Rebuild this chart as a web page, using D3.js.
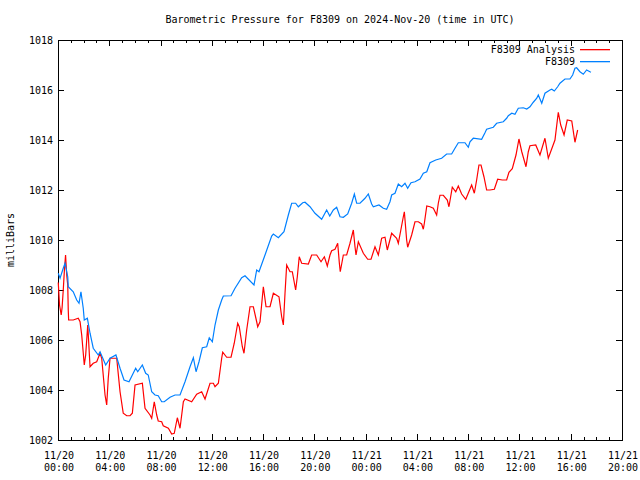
<!DOCTYPE html>
<html><head><meta charset="utf-8">
<script src="https://cdn.jsdelivr.net/npm/d3@7"></script>
<style>
body{margin:0;background:#fff;}
text{font-family:"DejaVu Sans Mono","Liberation Mono",monospace;font-size:10px;fill:#000;}
</style></head>
<body><svg id="c" width="640" height="480"></svg>
<script>
const titleText = "Barometric Pressure for F8309 on 2024-Nov-20 (time in UTC)";
const yLabel = "milliBars";
const seriesNames = ["F8309 Analysis", "F8309"];
const yTicks = [1002,1004,1006,1008,1010,1012,1014,1016,1018];
// hours since 2024-11-20 00:00 UTC
const obsHours = [0.02,0.16,0.41,0.55,0.76,0.80,1.19,1.46,1.64,1.79,1.97,2.05,2.29,2.50,2.75,3.14,3.28,3.72,4.06,4.52,4.84,5.15,5.54,6.06,6.22,6.58,6.84,7.04,7.31,7.57,7.82,8.09,8.29,8.74,9.13,9.52,9.91,10.30,10.56,10.77,11.00,11.26,11.60,11.80,12.04,12.25,12.51,12.77,12.90,13.50,13.81,14.33,14.59,15.29,15.50,15.68,16.15,16.67,16.80,17.19,17.63,17.97,18.23,18.54,18.75,19.09,19.27,19.66,20.05,20.57,20.96,21.20,21.48,21.74,22.00,22.26,22.60,22.91,23.12,23.30,23.56,23.95,24.21,24.47,24.60,25.04,25.38,25.64,25.90,26.03,26.29,26.55,26.81,27.07,27.28,27.54,27.85,28.24,28.50,28.77,29.02,29.47,29.93,30.32,30.71,30.97,31.23,31.75,32.01,32.14,32.40,33.05,33.31,33.44,33.96,34.22,34.74,35.00,35.13,35.40,35.65,35.91,36.30,36.57,36.82,37.08,37.35,37.47,37.74,37.99,38.38,38.52,38.72,38.98,39.16,39.55,39.94,40.15,40.33,40.46,40.72,40.98,41.24,41.50,41.58];
const obsValues = [1008.67,1008.47,1008.87,1009.07,1008.53,1008.13,1007.93,1007.60,1007.47,1007.93,1007.27,1006.80,1006.87,1006.27,1005.67,1005.40,1005.53,1005.00,1005.27,1005.40,1004.87,1004.40,1004.33,1004.87,1004.73,1005.00,1004.67,1004.60,1003.93,1003.80,1003.77,1003.53,1003.53,1003.71,1003.80,1003.80,1004.33,1004.93,1005.29,1004.73,1005.13,1005.69,1005.73,1006.09,1005.93,1006.60,1007.20,1007.60,1007.76,1007.77,1008.07,1008.49,1008.57,1008.20,1008.80,1008.73,1009.40,1010.16,1010.24,1010.09,1010.33,1011.00,1011.47,1011.47,1011.33,1011.49,1011.51,1011.33,1011.07,1010.83,1011.20,1010.96,1011.20,1011.31,1010.93,1010.91,1011.04,1011.47,1011.84,1011.47,1011.47,1011.67,1011.84,1011.44,1011.33,1011.40,1011.27,1011.23,1011.53,1011.80,1011.87,1012.24,1012.13,1012.27,1012.07,1012.29,1012.33,1012.44,1012.67,1012.73,1013.09,1013.20,1013.27,1013.44,1013.44,1013.67,1013.89,1013.89,1013.71,1013.93,1014.07,1014.03,1014.29,1014.43,1014.51,1014.67,1014.73,1014.87,1014.97,1015.07,1015.03,1015.27,1015.29,1015.24,1015.33,1015.51,1015.67,1015.80,1015.47,1015.87,1016.00,1016.03,1015.96,1016.13,1016.27,1016.44,1016.44,1016.60,1016.87,1016.89,1016.73,1016.63,1016.80,1016.73,1016.71];
const anaHours = [0.02,0.12,0.25,0.32,0.41,0.50,0.59,0.68,0.76,0.80,0.83,1.19,1.58,1.72,1.85,2.05,2.16,2.32,2.50,2.75,3.02,3.28,3.41,3.67,3.80,3.92,4.06,4.58,4.84,5.09,5.36,5.62,5.80,6.01,6.58,6.79,7.18,7.31,7.51,7.70,7.82,8.09,8.21,8.61,8.87,9.07,9.31,9.52,9.78,9.91,10.43,10.82,11.21,11.47,11.86,12.12,12.25,12.51,12.77,12.85,13.16,13.50,13.75,14.02,14.14,14.38,14.51,14.72,14.98,15.24,15.50,15.58,15.76,16.02,16.23,16.54,16.80,17.24,17.45,17.58,17.71,17.84,18.10,18.28,18.54,18.67,18.82,19.01,19.53,19.79,20.18,20.52,20.78,21.01,21.22,21.35,21.61,21.82,21.95,22.02,22.26,22.52,22.78,23.04,23.17,23.25,23.43,23.82,24.16,24.42,24.73,24.99,25.25,25.51,25.69,26.03,26.42,26.55,26.94,27.02,27.20,27.28,27.59,27.85,28.11,28.37,28.50,28.58,28.77,29.02,29.28,29.54,29.67,29.80,30.06,30.37,30.50,30.76,31.03,31.23,31.49,31.81,32.27,32.48,32.66,32.84,33.00,33.23,33.44,33.70,34.04,34.30,34.66,35.00,35.18,35.44,35.73,35.96,36.18,36.51,36.69,36.82,37.27,37.60,37.99,38.25,38.77,39.03,39.22,39.48,39.73,40.08,40.33,40.54];
const anaValues = [1008.30,1007.40,1007.00,1007.30,1008.00,1008.80,1009.40,1008.60,1008.20,1007.20,1006.80,1006.80,1006.87,1006.73,1006.20,1005.00,1005.40,1006.60,1004.93,1005.07,1005.13,1005.47,1005.27,1003.80,1003.40,1004.47,1005.27,1005.27,1003.93,1003.07,1002.97,1002.97,1003.07,1004.20,1004.27,1003.27,1003.00,1002.87,1003.53,1003.00,1002.76,1002.73,1002.57,1002.47,1002.24,1002.27,1002.89,1002.47,1003.53,1003.64,1003.53,1003.83,1003.93,1003.64,1004.27,1004.27,1004.13,1004.27,1005.27,1005.51,1005.31,1005.31,1005.87,1006.67,1006.53,1005.73,1005.47,1006.40,1007.33,1007.33,1006.73,1006.53,1006.73,1008.13,1007.33,1007.33,1007.87,1007.73,1006.93,1006.60,1007.87,1009.00,1008.73,1008.73,1008.00,1008.53,1009.33,1009.07,1009.04,1009.40,1009.40,1009.13,1009.33,1008.96,1009.40,1009.57,1009.63,1009.87,1009.07,1008.73,1009.40,1009.40,1009.87,1010.40,1009.73,1009.40,1009.93,1009.47,1009.23,1009.23,1009.73,1009.40,1010.07,1010.11,1009.60,1010.27,1010.07,1009.87,1010.93,1011.13,1010.00,1009.71,1010.20,1010.73,1010.73,1010.64,1010.43,1010.67,1011.36,1011.33,1011.27,1011.00,1011.47,1011.79,1011.79,1011.60,1011.33,1012.11,1011.93,1012.16,1011.84,1011.63,1012.20,1011.87,1012.40,1013.00,1013.00,1012.53,1012.00,1012.00,1012.03,1012.43,1012.40,1012.40,1012.71,1012.85,1013.40,1014.04,1013.53,1012.93,1013.53,1013.77,1013.80,1013.40,1014.07,1013.27,1014.00,1015.11,1014.60,1014.20,1014.80,1014.76,1013.91,1014.40];

const t0 = Date.UTC(2024,10,20,0,0);
const toDate = h => new Date(t0 + h*3600e3);
const svg = d3.select("#c");
const L=58, R=622, T=40, B=440;
const x = d3.scaleUtc().domain([new Date(t0), new Date(Date.UTC(2024,10,21,20,0))]).range([L,R]);
const y = d3.scaleLinear().domain([1002,1018]).range([B,T]);

const major = d3.utcHour.every(4).range(x.domain()[0], new Date(+x.domain()[1]+1));
const minor = d3.utcHour.every(1).range(x.domain()[0], new Date(+x.domain()[1]+1));
const g = svg.append("g").attr("shape-rendering","crispEdges").attr("stroke","#000");
minor.forEach(d=>{const px=Math.round(x(d))+0.5;
  g.append("line").attr("x1",px).attr("x2",px).attr("y1",B).attr("y2",B-3);
  g.append("line").attr("x1",px).attr("x2",px).attr("y1",T).attr("y2",T+3);});
major.forEach(d=>{const px=Math.round(x(d))+0.5;
  g.append("line").attr("x1",px).attr("x2",px).attr("y1",B).attr("y2",B-6);
  g.append("line").attr("x1",px).attr("x2",px).attr("y1",T).attr("y2",T+6);});
yTicks.forEach(v=>{const py=Math.round(y(v))+0.5;
  g.append("line").attr("x1",L).attr("x2",L+6).attr("y1",py).attr("y2",py);
  g.append("line").attr("x1",R).attr("x2",R-6).attr("y1",py).attr("y2",py);});
g.append("rect").attr("x",L+0.5).attr("y",T+0.5).attr("width",R-L).attr("height",B-T).attr("fill","none");

const fmtD = d3.utcFormat("%m/%d"), fmtT = d3.utcFormat("%H:%M");
major.forEach(d=>{
  const t = svg.append("text").attr("text-anchor","middle");
  t.append("tspan").attr("x",x(d)+1).attr("y",459).text(fmtD(d));
  t.append("tspan").attr("x",x(d)+1).attr("y",471).text(fmtT(d));
});
yTicks.forEach(v=>svg.append("text").attr("x",53).attr("y",y(v)+4).attr("text-anchor","end").text(v));

svg.append("text").attr("x",340).attr("y",23).attr("text-anchor","middle").text(titleText);
svg.append("text").attr("transform","translate(14,240) rotate(-90)").attr("text-anchor","middle").text(yLabel);

const line = d3.line().x(d=>x(toDate(d[0]))).y(d=>y(d[1]));
const ana = anaHours.map((h,i)=>[h,anaValues[i]]);
const obs = obsHours.map((h,i)=>[h,obsValues[i]]);
const colors = ["#ff0000","#0080ff"];
svg.append("path").datum(ana).attr("d",line).attr("fill","none").attr("stroke",colors[0]).attr("stroke-width",1.2);
svg.append("path").datum(obs).attr("d",line).attr("fill","none").attr("stroke",colors[1]).attr("stroke-width",1.2);

seriesNames.forEach((n,i)=>{
  const yy = 53 + i*12;
  svg.append("text").attr("x",575).attr("y",yy).attr("text-anchor","end").text(n);
  svg.append("rect").attr("x",580).attr("y",yy-4).attr("width",30).attr("height",1.3).attr("fill",colors[i]);
});
</script></body></html>
